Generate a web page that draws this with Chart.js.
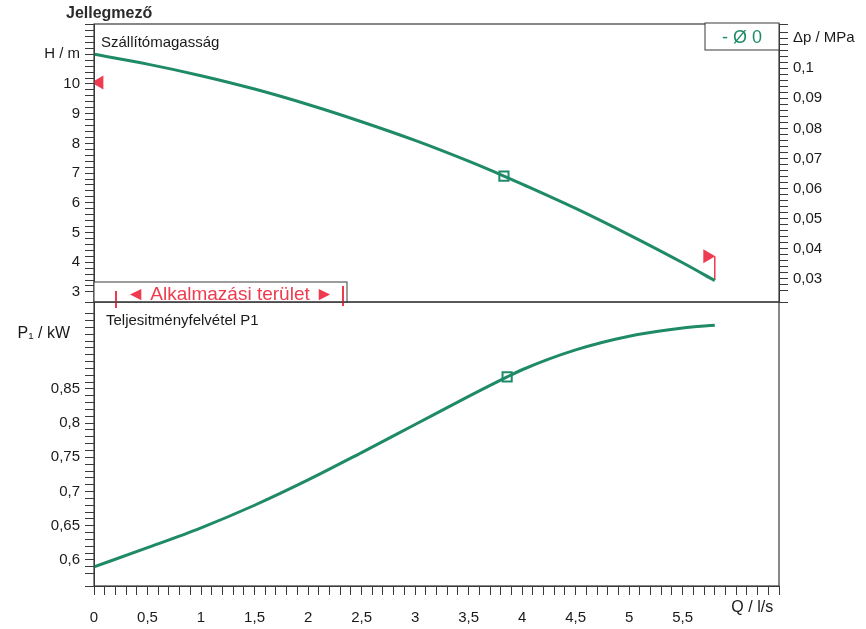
<!DOCTYPE html>
<html>
<head>
<meta charset="utf-8">
<script src="https://cdn.jsdelivr.net/npm/chart.js@4/dist/chart.umd.min.js"></script>
<style>
  body { margin: 0; background: #fff; }
  #wrap { position: relative; width: 866px; height: 629px; }
  #wrap canvas { position: absolute; left: 0; top: 0; }
</style>
</head>
<body>
<div id="wrap">
  <canvas id="top" width="866" height="629"></canvas>
  <canvas id="bottom" width="866" height="629"></canvas>
</div>
<script>
// Q / l/s sample points
const qVals = [0, 0.5, 1, 1.5, 2, 2.5, 3, 3.5, 3.83, 4, 4.5, 5, 5.5, 5.8];
// delivery head H / m
const hVals = [11.0, 10.67, 10.28, 9.83, 9.31, 8.73, 8.1, 7.4, 6.9, 6.63, 5.81, 4.92, 3.98, 3.38];
// power input P1 / kW
const qP = [0, 0.5, 1, 1.5, 2, 2.5, 3, 3.5, 3.86, 4, 4.5, 5, 5.5, 5.8];
const pVals = [0.59, 0.618, 0.647, 0.68, 0.717, 0.757, 0.798, 0.839, 0.8675, 0.878, 0.907, 0.927, 0.939, 0.943];
// duty points
const dutyH = { x: 3.83, y: 6.9 };
const dutyP = { x: 3.86, y: 0.8675 };
// application range markers
const rangeMax = { x: 0.05, y: 10.05 };
const rangeMin = { x: 5.73, y: 4.2 };
const rangeEnd = [{ x: 5.8, y: 4.2 }, { x: 5.8, y: 3.4 }];

const GREEN = '#1f8a68';
const RED = '#ee3b4f';
const FONT = '"Liberation Sans", Arial, sans-serif';
const AXIS_COL = '#3a3a3a';
const TXT = '#1a1a1a';

const fmt = (v, d) => String(Math.round(v * d) / d).replace('.', ',');
const isStep = (v, inv) => Math.abs(v * inv - Math.round(v * inv)) < 1e-6;

const QMIN = 0, QMAX = 6.4;
const LEFT_W = 94, RIGHT_W = 87, DIVIDE = 302;

function axisGrid() {
    return { drawOnChartArea: false, drawTicks: true, tickLength: 9, color: AXIS_COL, tickColor: AXIS_COL, lineWidth: 1 };
}

// frame + static texts
const frameTop = {
    id: 'frameTop',
    afterDraw(chart) {
        const { ctx, chartArea: a } = chart;
        ctx.save();
        ctx.strokeStyle = AXIS_COL;
        ctx.lineWidth = 1.2;
        ctx.strokeRect(a.left, a.top, a.right - a.left, a.bottom - a.top);

        ctx.fillStyle = '#2b2b2b';
        ctx.font = 'bold 16px ' + FONT;
        ctx.textBaseline = 'alphabetic';
        ctx.fillText('Jellegmező', 66, 18);

        ctx.fillStyle = TXT;
        ctx.font = '15px ' + FONT;
        ctx.fillText('Szállítómagasság', a.left + 7, 47);

        // legend box
        ctx.fillStyle = '#fff';
        ctx.fillRect(a.right - 74, a.top - 1, 74, 27);
        ctx.strokeStyle = AXIS_COL;
        ctx.lineWidth = 1;
        ctx.strokeRect(a.right - 74, a.top - 1, 74, 27);
        ctx.fillStyle = GREEN;
        ctx.font = '18px ' + FONT;
        ctx.textAlign = 'center';
        ctx.fillText('- Ø 0', a.right - 37, a.top + 19);

        // application range box
        const bx = a.left, bw = 253, bh = 20, by = a.bottom - bh;
        ctx.fillStyle = '#fff';
        ctx.fillRect(bx, by, bw, bh);
        ctx.strokeStyle = AXIS_COL;
        ctx.strokeRect(bx, by, bw, bh);
        ctx.fillStyle = RED;
        ctx.font = '19px ' + FONT;
        ctx.fillText('◄ Alkalmazási terület ►', bx + 136, by + 18);
        ctx.fillRect(bx + 21, by + 9, 2, 17);
        ctx.fillRect(bx + 248, by + 4, 2, 20);
        ctx.restore();
    }
};

const frameBottom = {
    id: 'frameBottom',
    afterDraw(chart) {
        const { ctx, chartArea: a, scales } = chart;
        ctx.save();
        ctx.strokeStyle = AXIS_COL;
        ctx.lineWidth = 1.2;
        ctx.strokeRect(a.left, a.top, a.right - a.left, a.bottom - a.top);

        ctx.fillStyle = TXT;
        ctx.font = '15px ' + FONT;
        ctx.fillText('Teljesitményfelvétel P1', a.left + 12, a.top + 23);

        ctx.textAlign = 'right';
        ctx.font = '16px ' + FONT;
        ctx.fillText('P₁ / kW', 70, 338);

        ctx.textAlign = 'center';
        ctx.textBaseline = 'middle';
        ctx.fillText('Q / l/s', scales.x.getPixelForValue(6.15), 608);
        ctx.restore();
    }
};

const tickFont = { family: FONT, size: 15 };

new Chart(document.getElementById('top'), {
    type: 'scatter',
    data: {
        datasets: [
            {
                data: qVals.map((q, i) => ({ x: q, y: hVals[i] })),
                showLine: true, borderColor: GREEN, borderWidth: 3, pointRadius: 0,
                cubicInterpolationMode: 'monotone'
            },
            {
                data: [dutyH], pointStyle: 'rect', pointRadius: 6.5,
                pointBackgroundColor: '#fff', pointBorderColor: GREEN, pointBorderWidth: 2
            },
            {
                data: rangeEnd, showLine: true, borderColor: RED, borderWidth: 1.5, pointRadius: 0
            },
            {
                data: [rangeMax], pointStyle: 'triangle', rotation: 270, pointRadius: 8,
                pointBackgroundColor: RED, pointBorderColor: RED, pointBorderWidth: 0
            },
            {
                data: [rangeMin], pointStyle: 'triangle', rotation: 90, pointRadius: 8,
                pointBackgroundColor: RED, pointBorderColor: RED, pointBorderWidth: 0
            }
        ]
    },
    options: {
        responsive: false,
        animation: false,
        devicePixelRatio: 1,
        layout: { padding: { left: 0, right: 0, top: 24, bottom: 629 - DIVIDE } },
        plugins: { legend: { display: false }, tooltip: { enabled: false } },
        scales: {
            x: { type: 'linear', min: QMIN, max: QMAX, display: false },
            y: {
                type: 'linear', position: 'left', min: 2.66, max: 12.02,
                afterFit: s => { s.width = LEFT_W; },
                grid: axisGrid(),
                border: { display: true, color: AXIS_COL },
                ticks: {
                    stepSize: 0.2, autoSkip: false, padding: 5, color: TXT, font: tickFont,
                    callback: v => {
                        if (!isStep(v, 1)) return '';
                        if (Math.round(v) === 11) return 'H / m';
                        if (Math.round(v) > 11) return '';
                        return fmt(v, 1);
                    }
                }
            },
            y2: {
                type: 'linear', position: 'right', min: 0.0223, max: 0.1147,
                afterFit: s => { s.width = RIGHT_W; },
                grid: axisGrid(),
                border: { display: true, color: AXIS_COL },
                ticks: {
                    stepSize: 0.002, autoSkip: false, padding: 5, color: TXT, font: tickFont,
                    callback: v => {
                        if (!isStep(v, 100)) return '';
                        if (Math.round(v * 100) === 11) return 'Δp / MPa';
                        return fmt(v, 100);
                    }
                }
            }
        }
    },
    plugins: [frameTop]
});

new Chart(document.getElementById('bottom'), {
    type: 'scatter',
    data: {
        datasets: [
            {
                data: qP.map((q, i) => ({ x: q, y: pVals[i] })),
                showLine: true, borderColor: GREEN, borderWidth: 3, pointRadius: 0,
                cubicInterpolationMode: 'monotone'
            },
            {
                data: [dutyP], pointStyle: 'rect', pointRadius: 6.5,
                pointBackgroundColor: '#fff', pointBorderColor: GREEN, pointBorderWidth: 2
            }
        ]
    },
    options: {
        responsive: false,
        animation: false,
        devicePixelRatio: 1,
        layout: { padding: { left: 0, right: RIGHT_W, top: DIVIDE, bottom: 0 } },
        plugins: { legend: { display: false }, tooltip: { enabled: false } },
        scales: {
            x: {
                type: 'linear', min: QMIN, max: QMAX,
                afterFit: s => { s.height = 43; },
                grid: axisGrid(),
                border: { display: true, color: AXIS_COL },
                ticks: {
                    stepSize: 0.1, autoSkip: false, maxRotation: 0, padding: 14, color: TXT, font: tickFont,
                    callback: v => (isStep(v, 2) && v < 5.9 ? fmt(v, 10) : '')
                }
            },
            y: {
                type: 'linear', position: 'left', min: 0.562, max: 0.977,
                afterFit: s => { s.width = LEFT_W; },
                grid: axisGrid(),
                border: { display: true, color: AXIS_COL },
                ticks: {
                    stepSize: 0.01, autoSkip: false, padding: 5, color: TXT, font: tickFont,
                    callback: v => (isStep(v, 20) && v < 0.88 ? fmt(v, 100) : '')
                }
            }
        }
    },
    plugins: [frameBottom]
});
</script>
</body>
</html>
